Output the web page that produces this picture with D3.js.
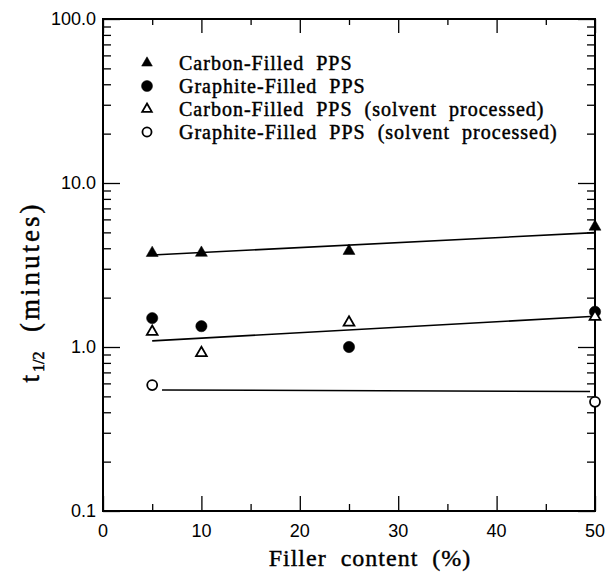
<!DOCTYPE html>
<html>
<head>
<meta charset="utf-8">
<script src="https://cdn.jsdelivr.net/npm/d3@7"></script>
<style>
  body { margin: 0; background: #fff; }
  svg { display: block; }
</style>
</head>
<body>
<script>
const w = 607;
const h = 573;
const padding = { top: 19, right: 12, bottom: 62, left: 103 };

// data
const seriesNames = [
  'Carbon-Filled  PPS',
  'Graphite-Filled  PPS',
  'Carbon-Filled  PPS  (solvent  processed)',
  'Graphite-Filled  PPS  (solvent  processed)'
];
const fillerX = [5, 10, 25, 50];
const carbon = [3.74, 3.75, 3.85, 5.41];
const graphite = [1.50, 1.34, 1.00, 1.64];
const carbonSolvent = [1.24, 0.92, 1.41, 1.53];
const graphiteSolventX = [5, 50];
const graphiteSolvent = [0.586, 0.463];

// fitted lines (end points)
const fitX = [5, 50];
const fitCarbon = [3.64, 4.98];
const fitMiddle = [1.09, 1.54];
const fitSolventX = [6, 49.5];
const fitSolvent = [0.547, 0.535];

const xTicks = [0, 10, 20, 30, 40, 50];
const xMinorTicks = [5, 15, 25, 35, 45];
const yTicks = [0.1, 1, 10, 100];
const yTickLabels = ['0.1', '1.0', '10.0', '100.0'];

const xScale = d3.scaleLinear().domain([0, 50]).range([padding.left, w - padding.right]);
const yScale = d3.scaleLog().domain([0.1, 100]).range([h - padding.bottom, padding.top]);

const yMinor = [];
for (let d = 0.1; d < 100; d *= 10) {
  for (let k = 2; k <= 9; k++) yMinor.push(+(d * k).toFixed(3));
}

const svg = d3.select('body').append('svg')
  .attr('width', w)
  .attr('height', h);

const serif = 'Liberation Serif, Times New Roman, serif';
const sans = 'Liberation Sans, Arial, sans-serif';

// axes: ticks point inward on all four sides
const bottom = h - padding.bottom;
const right = w - padding.right;

function styleAxis(g) {
  g.select('.domain').remove();
  g.selectAll('line').attr('stroke', '#000').attr('stroke-width', 1.3);
}

svg.append('g').attr('transform', `translate(0,${bottom})`)
  .call(d3.axisBottom(xScale).tickValues(xTicks).tickSize(-15).tickFormat(''))
  .call(styleAxis);
svg.append('g').attr('transform', `translate(0,${bottom})`)
  .call(d3.axisBottom(xScale).tickValues(xMinorTicks).tickSize(-7).tickFormat(''))
  .call(styleAxis);
svg.append('g').attr('transform', `translate(0,${padding.top})`)
  .call(d3.axisTop(xScale).tickValues(xTicks).tickSize(-14).tickFormat(''))
  .call(styleAxis);
svg.append('g').attr('transform', `translate(0,${padding.top})`)
  .call(d3.axisTop(xScale).tickValues(xMinorTicks).tickSize(-6).tickFormat(''))
  .call(styleAxis);

svg.append('g').attr('transform', `translate(${padding.left},0)`)
  .call(d3.axisLeft(yScale).tickValues(yTicks).tickSize(-17).tickFormat(''))
  .call(styleAxis);
svg.append('g').attr('transform', `translate(${padding.left},0)`)
  .call(d3.axisLeft(yScale).tickValues(yMinor).tickSize(-8).tickFormat(''))
  .call(styleAxis);
svg.append('g').attr('transform', `translate(${right},0)`)
  .call(d3.axisRight(yScale).tickValues(yTicks).tickSize(-17).tickFormat(''))
  .call(styleAxis);
svg.append('g').attr('transform', `translate(${right},0)`)
  .call(d3.axisRight(yScale).tickValues(yMinor).tickSize(-8).tickFormat(''))
  .call(styleAxis);

// frame
svg.append('rect')
  .attr('x', padding.left)
  .attr('y', padding.top)
  .attr('width', right - padding.left)
  .attr('height', bottom - padding.top)
  .attr('fill', 'none')
  .attr('stroke', '#000')
  .attr('stroke-width', 2);

// tick labels
svg.selectAll('.xlab')
  .data(xTicks)
  .enter()
  .append('text')
  .attr('x', d => xScale(d))
  .attr('y', bottom + 26)
  .attr('text-anchor', 'middle')
  .style('font-family', sans)
  .style('font-size', '18px')
  .text(d => d);

svg.selectAll('.ylab')
  .data(yTicks)
  .enter()
  .append('text')
  .attr('x', padding.left - 7)
  .attr('y', d => yScale(d) + 6)
  .attr('text-anchor', 'end')
  .style('font-family', sans)
  .style('font-size', '18px')
  .text((d, i) => yTickLabels[i]);

// fitted lines
const line = d3.line().x(d => xScale(d[0])).y(d => yScale(d[1]));
[
  [fitX, fitCarbon],
  [fitX, fitMiddle],
  [fitSolventX, fitSolvent]
].forEach(([xs, ys]) => {
  svg.append('path')
    .attr('d', line(xs.map((x, i) => [x, ys[i]])))
    .attr('fill', 'none')
    .attr('stroke', '#000')
    .attr('stroke-width', 1.6);
});

// markers
const triFilled = d3.symbol(d3.symbolTriangle, 62);
const triOpen = d3.symbol(d3.symbolTriangle, 50);
const circ = d3.symbol(d3.symbolCircle, 100);
const circOpen = d3.symbol(d3.symbolCircle, 78);

const series = [
  { xs: fillerX, ys: carbon, sym: triFilled, fill: '#000' },
  { xs: fillerX, ys: graphite, sym: circ, fill: '#000' },
  { xs: fillerX, ys: carbonSolvent, sym: triOpen, fill: '#fff' },
  { xs: graphiteSolventX, ys: graphiteSolvent, sym: circOpen, fill: '#fff' }
];

series.forEach(s => {
  svg.append('g').selectAll('path')
    .data(s.xs.map((x, i) => [x, s.ys[i]]))
    .enter()
    .append('path')
    .attr('transform', d => `translate(${xScale(d[0])},${yScale(d[1])})`)
    .attr('d', s.sym)
    .attr('fill', s.fill)
    .attr('stroke', '#000')
    .attr('stroke-width', s.fill === '#fff' ? 1.8 : 0.5);
});

// legend
const legendY = [63, 86, 109, 132];
const legendSyms = [
  d3.symbol(d3.symbolTriangle, 50),
  d3.symbol(d3.symbolCircle, 95),
  d3.symbol(d3.symbolTriangle, 40),
  d3.symbol(d3.symbolCircle, 65)
];
const legend = svg.append('g');
seriesNames.forEach((name, i) => {
  legend.append('path')
    .attr('transform', `translate(147,${legendY[i]})`)
    .attr('d', legendSyms[i])
    .attr('fill', series[i].fill)
    .attr('stroke', '#000')
    .attr('stroke-width', series[i].fill === '#fff' ? 1.8 : 0.5);
  legend.append('text')
    .attr('x', 179)
    .attr('y', legendY[i] + 7)
    .style('font-family', serif)
    .style('font-size', '20px')
    .style('letter-spacing', '1px')
    .style('white-space', 'pre')
    .attr('stroke', '#000')
    .attr('stroke-width', 0.45)
    .text(name);
});

// axis titles
svg.append('text')
  .attr('x', 370)
  .attr('y', 566)
  .attr('text-anchor', 'middle')
  .style('font-family', serif)
  .style('font-size', '24px')
  .style('letter-spacing', '1px')
  .style('white-space', 'pre')
  .attr('stroke', '#000')
  .attr('stroke-width', 0.4)
  .text('Filler  content  (%)');

const yTitle = svg.append('text')
  .attr('transform', `translate(39,${292}) rotate(-90)`)
  .attr('text-anchor', 'middle')
  .style('font-family', serif)
  .style('font-size', '27px')
  .style('letter-spacing', '3px')
  .style('white-space', 'pre')
  .attr('stroke', '#000')
  .attr('stroke-width', 0.5);
yTitle.append('tspan').text('t');
yTitle.append('tspan').attr('dy', 5).style('font-size', '16px').style('letter-spacing', '0px').text('1/2');
yTitle.append('tspan').attr('dy', -5).text('  (minutes)');
</script>
</body>
</html>
